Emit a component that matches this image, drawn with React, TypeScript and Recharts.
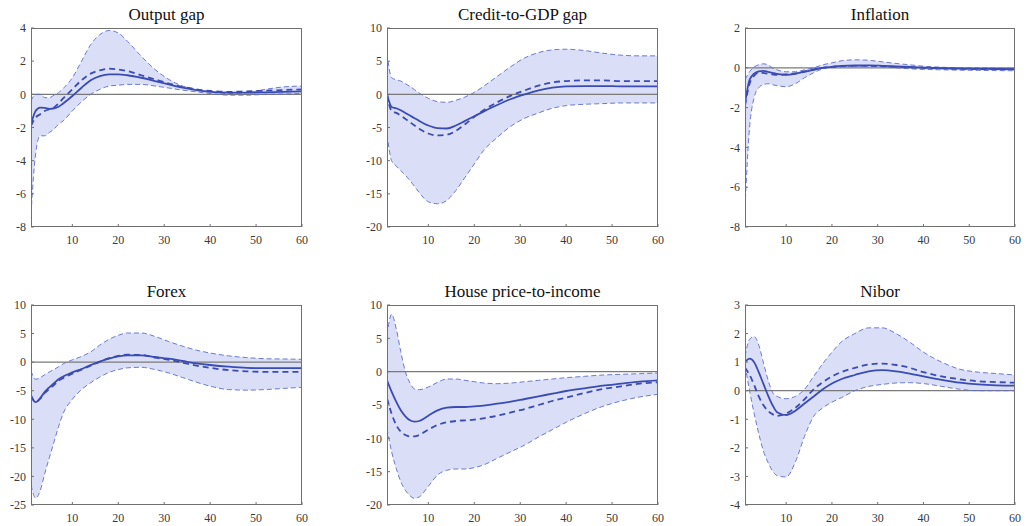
import React from 'react';
import { ComposedChart, Area, Line, XAxis, YAxis, ReferenceLine } from 'recharts';

// Horizon (quarters)
const horizon = [1, 2, 3, 4, 5, 6, 7, 8, 10, 12, 14, 16, 18, 20, 22, 25, 28, 31, 34, 37, 40, 44, 48, 52, 56, 60];
const xTicks = [10, 20, 30, 40, 50, 60];

// Output gap
const outputGapUpper = [-0.4, 0.0, 0.0, -0.2, -0.2, -0.05, 0.1, 0.35, 1.0, 2.0, 3.0, 3.6, 3.85, 3.7, 3.2, 2.3, 1.5, 0.9, 0.5, 0.3, 0.15, 0.05, 0.1, 0.3, 0.45, 0.5];
const outputGapLower = [-7.2, -3.6, -2.5, -2.5, -2.3, -2.1, -1.8, -1.6, -1.0, -0.45, 0.0, 0.3, 0.5, 0.55, 0.6, 0.6, 0.5, 0.38, 0.25, 0.15, 0.05, -0.05, -0.05, 0.0, 0.02, 0.05];
const outputGapMedian = [-1.8, -1.0, -0.8, -0.82, -0.88, -0.85, -0.75, -0.55, -0.1, 0.4, 0.85, 1.1, 1.2, 1.2, 1.15, 1.0, 0.8, 0.6, 0.4, 0.25, 0.15, 0.1, 0.1, 0.12, 0.15, 0.18];
const outputGapAlt = [-1.9, -1.4, -1.2, -1.0, -0.9, -0.8, -0.55, -0.25, 0.3, 0.85, 1.25, 1.45, 1.55, 1.5, 1.4, 1.15, 0.9, 0.65, 0.45, 0.3, 0.2, 0.15, 0.18, 0.22, 0.26, 0.3];
const outputGapTicks = [-8, -6, -4, -2, 0, 2, 4];

// Credit-to-GDP gap
const creditUpper = [6.2, 2.5, 2.2, 2.0, 1.6, 1.2, 0.7, 0.2, -0.6, -1.1, -1.2, -0.9, -0.4, 0.3, 1.2, 2.7, 4.2, 5.5, 6.3, 6.7, 6.8, 6.6, 6.2, 5.9, 5.8, 5.8];
const creditLower = [-6, -10, -10.8, -11.5, -12.2, -13, -13.9, -14.8, -16.2, -16.5, -16, -14.5, -12.5, -10.5, -8.5, -6.5, -4.8, -3.6, -2.8, -2.1, -1.7, -1.5, -1.4, -1.3, -1.3, -1.3];
const creditMedian = [0, -1.9, -2.1, -2.4, -2.8, -3.2, -3.6, -4.0, -4.7, -5.1, -5.15, -4.7, -4.0, -3.3, -2.6, -1.6, -0.7, 0, 0.6, 1.0, 1.2, 1.25, 1.25, 1.2, 1.2, 1.2];
const creditAlt = [0, -2.5, -2.8, -3.2, -3.7, -4.2, -4.7, -5.2, -5.9, -6.2, -6.1, -5.5, -4.5, -3.4, -2.4, -1.2, -0.2, 0.6, 1.3, 1.8, 2.0, 2.1, 2.1, 2.0, 2.0, 2.0];
const creditTicks = [-20, -15, -10, -5, 0, 5, 10];

// Inflation
const inflationUpper = [-0.6, -0.2, 0.05, 0.15, 0.2, 0.15, 0.0, -0.1, -0.2, -0.2, -0.1, 0.0, 0.15, 0.25, 0.35, 0.4, 0.38, 0.3, 0.22, 0.15, 0.08, 0.03, 0, 0, -0.02, -0.03];
const inflationLower = [-7.0, -3.0, -1.5, -1.0, -0.85, -0.8, -0.85, -0.9, -0.95, -0.8, -0.5, -0.25, -0.05, 0.02, 0.05, 0.08, 0.08, 0.05, 0.0, -0.05, -0.08, -0.1, -0.12, -0.13, -0.14, -0.15];
const inflationMedian = [-1.8, -0.6, -0.3, -0.18, -0.15, -0.2, -0.25, -0.3, -0.35, -0.3, -0.2, -0.1, 0.0, 0.05, 0.1, 0.12, 0.12, 0.1, 0.07, 0.04, 0.01, -0.02, -0.04, -0.05, -0.06, -0.07];
const inflationAlt = [-1.9, -0.8, -0.4, -0.25, -0.25, -0.3, -0.33, -0.35, -0.33, -0.28, -0.18, -0.08, 0.0, 0.05, 0.08, 0.1, 0.1, 0.08, 0.05, 0.02, 0, -0.03, -0.05, -0.06, -0.07, -0.08];
const inflationTicks = [-8, -6, -4, -2, 0, 2];

// Forex
const forexUpper = [-1.5, -3.0, -2.7, -2.2, -1.7, -1.3, -0.8, -0.3, 0.4, 1.0, 1.8, 3.0, 4.0, 4.7, 5.1, 5.1, 4.5, 3.6, 2.8, 2.1, 1.6, 1.1, 0.8, 0.6, 0.55, 0.5];
const forexLower = [-21.5, -23.8, -22.5, -19.5, -16.7, -14, -11.3, -9, -6.5, -4.8, -3.6, -2.6, -1.8, -1.3, -1.0, -0.9, -1.3, -1.9, -2.7, -3.5, -4.2, -4.8, -4.9, -4.8, -4.6, -4.4];
const forexMedian = [-5.8, -7.0, -6.3, -5.2, -4.4, -3.7, -3.0, -2.5, -1.8, -1.2, -0.5, 0.1, 0.6, 1.0, 1.2, 1.2, 0.9, 0.6, 0.2, -0.2, -0.5, -0.8, -1.0, -1.05, -1.05, -1.05];
const forexAlt = [-5.9, -7.0, -6.4, -5.4, -4.7, -4.0, -3.3, -2.8, -2.0, -1.3, -0.6, 0.1, 0.7, 1.1, 1.3, 1.25, 0.8, 0.4, -0.1, -0.6, -1.0, -1.4, -1.6, -1.7, -1.7, -1.7];
const forexTicks = [-25, -20, -15, -10, -5, 0, 5, 10];

// House price-to-income
const houseUpper = [5.5, 8.6, 6.5, 3.0, 0, -1.7, -2.6, -2.7, -2.3, -1.6, -1.1, -1.1, -1.3, -1.5, -1.7, -1.8, -1.7, -1.5, -1.3, -1.1, -0.9, -0.7, -0.5, -0.4, -0.3, -0.2];
const houseLower = [-8.5, -12, -14.5, -16.5, -17.8, -18.6, -19.0, -18.8, -17.2, -15.5, -14.8, -14.6, -14.6, -14.4, -14.0, -13.0, -12.0, -11.0, -9.8, -8.7, -7.6, -6.3, -5.2, -4.4, -3.8, -3.4];
const houseMedian = [-1.3, -3.0, -4.5, -5.8, -6.7, -7.3, -7.5, -7.4, -6.6, -5.8, -5.4, -5.3, -5.3, -5.2, -5.1, -4.8, -4.5, -4.1, -3.7, -3.3, -2.9, -2.5, -2.1, -1.8, -1.5, -1.3];
const houseAlt = [-4.0, -6.3, -8.0, -9.0, -9.5, -9.7, -9.7, -9.5, -8.7, -8.0, -7.6, -7.4, -7.3, -7.2, -7.0, -6.6, -6.1, -5.6, -5.0, -4.4, -3.9, -3.2, -2.6, -2.2, -1.8, -1.6];
const houseTicks = [-20, -15, -10, -5, 0, 5, 10];

// Nibor
const niborUpper = [1.2, 1.8, 1.9, 1.6, 1.0, 0.4, -0.05, -0.2, -0.28, -0.2, 0.05, 0.5, 0.95, 1.35, 1.7, 2.0, 2.2, 2.2, 2.0, 1.7, 1.35, 1.0, 0.75, 0.65, 0.6, 0.55];
const niborLower = [0.9, 0.0, -0.8, -1.5, -2.1, -2.5, -2.8, -2.97, -3.02, -2.5, -1.6, -0.9, -0.6, -0.4, -0.25, 0.0, 0.15, 0.22, 0.27, 0.28, 0.25, 0.15, 0.05, 0.0, 0.0, 0.0];
const niborMedian = [1.0, 1.12, 1.0, 0.65, 0.25, -0.15, -0.5, -0.75, -0.85, -0.7, -0.45, -0.2, 0.05, 0.25, 0.4, 0.55, 0.68, 0.72, 0.68, 0.6, 0.5, 0.38, 0.28, 0.22, 0.19, 0.18];
const niborAlt = [0.8, 0.55, 0.2, -0.2, -0.5, -0.7, -0.82, -0.88, -0.8, -0.6, -0.3, 0.05, 0.3, 0.5, 0.65, 0.8, 0.92, 0.95, 0.9, 0.8, 0.65, 0.5, 0.4, 0.33, 0.3, 0.28];
const niborTicks = [-4, -3, -2, -1, 0, 1, 2, 3];

const FONT = '"Liberation Serif", "Times New Roman", serif';
const BAND_FILL = '#dadef6';
const BAND_EDGE = '#5d6dc9';
const LINE = '#3a4bb4';
const AXIS = '#707070';
const TEXT = '#3a3a3a';

type PanelDef = {
  title: string;
  upper: number[];
  lower: number[];
  median: number[];
  alt: number[];
  ticks: number[];
  left: number;
  top: number;
  w: number;
  h: number;
  titleY: number;
};

const panels: PanelDef[] = [
  { title: 'Output gap', upper: outputGapUpper, lower: outputGapLower, median: outputGapMedian, alt: outputGapAlt, ticks: outputGapTicks, left: 31, top: 28, w: 271, h: 199, titleY: 5 },
  { title: 'Credit-to-GDP gap', upper: creditUpper, lower: creditLower, median: creditMedian, alt: creditAlt, ticks: creditTicks, left: 387, top: 28, w: 271, h: 199, titleY: 5 },
  { title: 'Inflation', upper: inflationUpper, lower: inflationLower, median: inflationMedian, alt: inflationAlt, ticks: inflationTicks, left: 745, top: 28, w: 270, h: 199, titleY: 5 },
  { title: 'Forex', upper: forexUpper, lower: forexLower, median: forexMedian, alt: forexAlt, ticks: forexTicks, left: 31, top: 305, w: 271, h: 200, titleY: 282 },
  { title: 'House price-to-income', upper: houseUpper, lower: houseLower, median: houseMedian, alt: houseAlt, ticks: houseTicks, left: 387, top: 305, w: 271, h: 200, titleY: 282 },
  { title: 'Nibor', upper: niborUpper, lower: niborLower, median: niborMedian, alt: niborAlt, ticks: niborTicks, left: 745, top: 305, w: 270, h: 200, titleY: 282 },
];

const YW = 40;
const XH = 25;
const MT = 10;
const MR = 10;
const TL = 3; // inner tick length
const BOTTOM_GAP = 8;
const LEFT_GAP = 5;
const tickTextStyle = { fontFamily: FONT, fontSize: 12 };

const BottomTick = (props: any) => {
  const { x, y, payload } = props;
  const ay = y - BOTTOM_GAP;
  return (
    <g>
      <line x1={x} x2={x} y1={ay} y2={ay - TL} stroke={AXIS} strokeWidth={1} />
      <text x={x} y={y} dy="0.71em" textAnchor="middle" fontFamily={FONT} fontSize={12} fill={TEXT} style={tickTextStyle}>
        {payload.value}
      </text>
    </g>
  );
};

const TopTick = (props: any) => {
  const { x, y } = props;
  return <line x1={x} x2={x} y1={y} y2={y + TL} stroke={AXIS} strokeWidth={1} />;
};

const LeftTick = (props: any) => {
  const { x, y, payload } = props;
  const ax = x + LEFT_GAP;
  return (
    <g>
      <line x1={ax} x2={ax + TL} y1={y} y2={y} stroke={AXIS} strokeWidth={1} />
      <text x={x} y={y} dy="0.355em" textAnchor="end" fontFamily={FONT} fontSize={12} fill={TEXT} style={tickTextStyle}>
        {payload.value}
      </text>
    </g>
  );
};

const RightTick = (props: any) => {
  const { x, y } = props;
  return <line x1={x} x2={x - TL} y1={y} y2={y} stroke={AXIS} strokeWidth={1} />;
};

function Panel({ p }: { p: PanelDef }) {
  const data = horizon.map((x, i) => ({
    x,
    band: [p.lower[i], p.upper[i]],
    lo: p.lower[i],
    hi: p.upper[i],
    med: p.median[i],
    alt: p.alt[i],
  }));
  const domain: [number, number] = [p.ticks[0], p.ticks[p.ticks.length - 1]];
  return (
    <>
      <div
        style={{
          position: 'absolute',
          left: p.left,
          width: p.w,
          top: p.titleY,
          height: 20,
          lineHeight: '20px',
          textAlign: 'center',
          fontFamily: FONT,
          fontSize: 17,
          color: '#111',
          whiteSpace: 'nowrap',
        }}
      >
        {p.title}
      </div>
      <div style={{ position: 'absolute', left: p.left - YW, top: p.top - MT }}>
        <ComposedChart
          width={YW + p.w + MR}
          height={MT + p.h + XH}
          data={data}
          margin={{ top: MT, right: MR, left: 0, bottom: 0 }}
          style={{ fontFamily: FONT }}
        >
          <XAxis
            xAxisId="b"
            dataKey="x"
            type="number"
            domain={[1, 60]}
            ticks={xTicks}
            allowDataOverflow
            height={XH}
            axisLine={false}
            tickLine={false}
            tickSize={0}
            tickMargin={BOTTOM_GAP}
            tick={BottomTick}
            interval={0}
          />
          <XAxis
            xAxisId="t"
            dataKey="x"
            type="number"
            orientation="top"
            domain={[1, 60]}
            ticks={xTicks}
            allowDataOverflow
            height={0}
            axisLine={false}
            tickLine={false}
            tickSize={0}
            tickMargin={0}
            tick={TopTick}
            interval={0}
          />
          <YAxis
            yAxisId="l"
            type="number"
            domain={domain}
            ticks={p.ticks}
            allowDataOverflow
            width={YW}
            axisLine={false}
            tickLine={false}
            tickSize={0}
            tickMargin={LEFT_GAP}
            tick={LeftTick}
            interval={0}
          />
          <YAxis
            yAxisId="r"
            type="number"
            orientation="right"
            domain={domain}
            ticks={p.ticks}
            allowDataOverflow
            width={0}
            axisLine={false}
            tickLine={false}
            tickSize={0}
            tickMargin={0}
            tick={RightTick}
            interval={0}
          />
          <Area
            xAxisId="b"
            yAxisId="l"
            dataKey="band"
            type="monotone"
            stroke="none"
            fill={BAND_FILL}
            fillOpacity={1}
            isAnimationActive={false}
            dot={false}
            activeDot={false}
          />
          <ReferenceLine xAxisId="b" yAxisId="l" y={0} stroke="#7a7a7a" strokeWidth={1.2} />
          <Line
            xAxisId="t"
            yAxisId="r"
            dataKey="lo"
            type="monotone"
            stroke={BAND_EDGE}
            strokeWidth={0.9}
            strokeDasharray="5 3"
            dot={false}
            activeDot={false}
            isAnimationActive={false}
          />
          <Line
            xAxisId="b"
            yAxisId="l"
            dataKey="hi"
            type="monotone"
            stroke={BAND_EDGE}
            strokeWidth={0.9}
            strokeDasharray="5 3"
            dot={false}
            activeDot={false}
            isAnimationActive={false}
          />
          <Line
            xAxisId="b"
            yAxisId="l"
            dataKey="alt"
            type="monotone"
            stroke={LINE}
            strokeWidth={1.8}
            strokeDasharray="6 4"
            dot={false}
            activeDot={false}
            isAnimationActive={false}
          />
          <Line
            xAxisId="b"
            yAxisId="l"
            dataKey="med"
            type="monotone"
            stroke={LINE}
            strokeWidth={1.8}
            dot={false}
            activeDot={false}
            isAnimationActive={false}
          />
        </ComposedChart>
      </div>
      <div
        style={{
          position: 'absolute',
          left: p.left,
          top: p.top,
          width: p.w,
          height: p.h,
          boxSizing: 'border-box',
          border: `1px solid ${AXIS}`,
          pointerEvents: 'none',
        }}
      />
    </>
  );
}

export default function App() {
  return (
    <div style={{ position: 'absolute', left: 0, top: 0, width: 1033, height: 526, background: '#fff', overflow: 'hidden' }}>
      {panels.map((p) => (
        <Panel key={p.title} p={p} />
      ))}
    </div>
  );
}
